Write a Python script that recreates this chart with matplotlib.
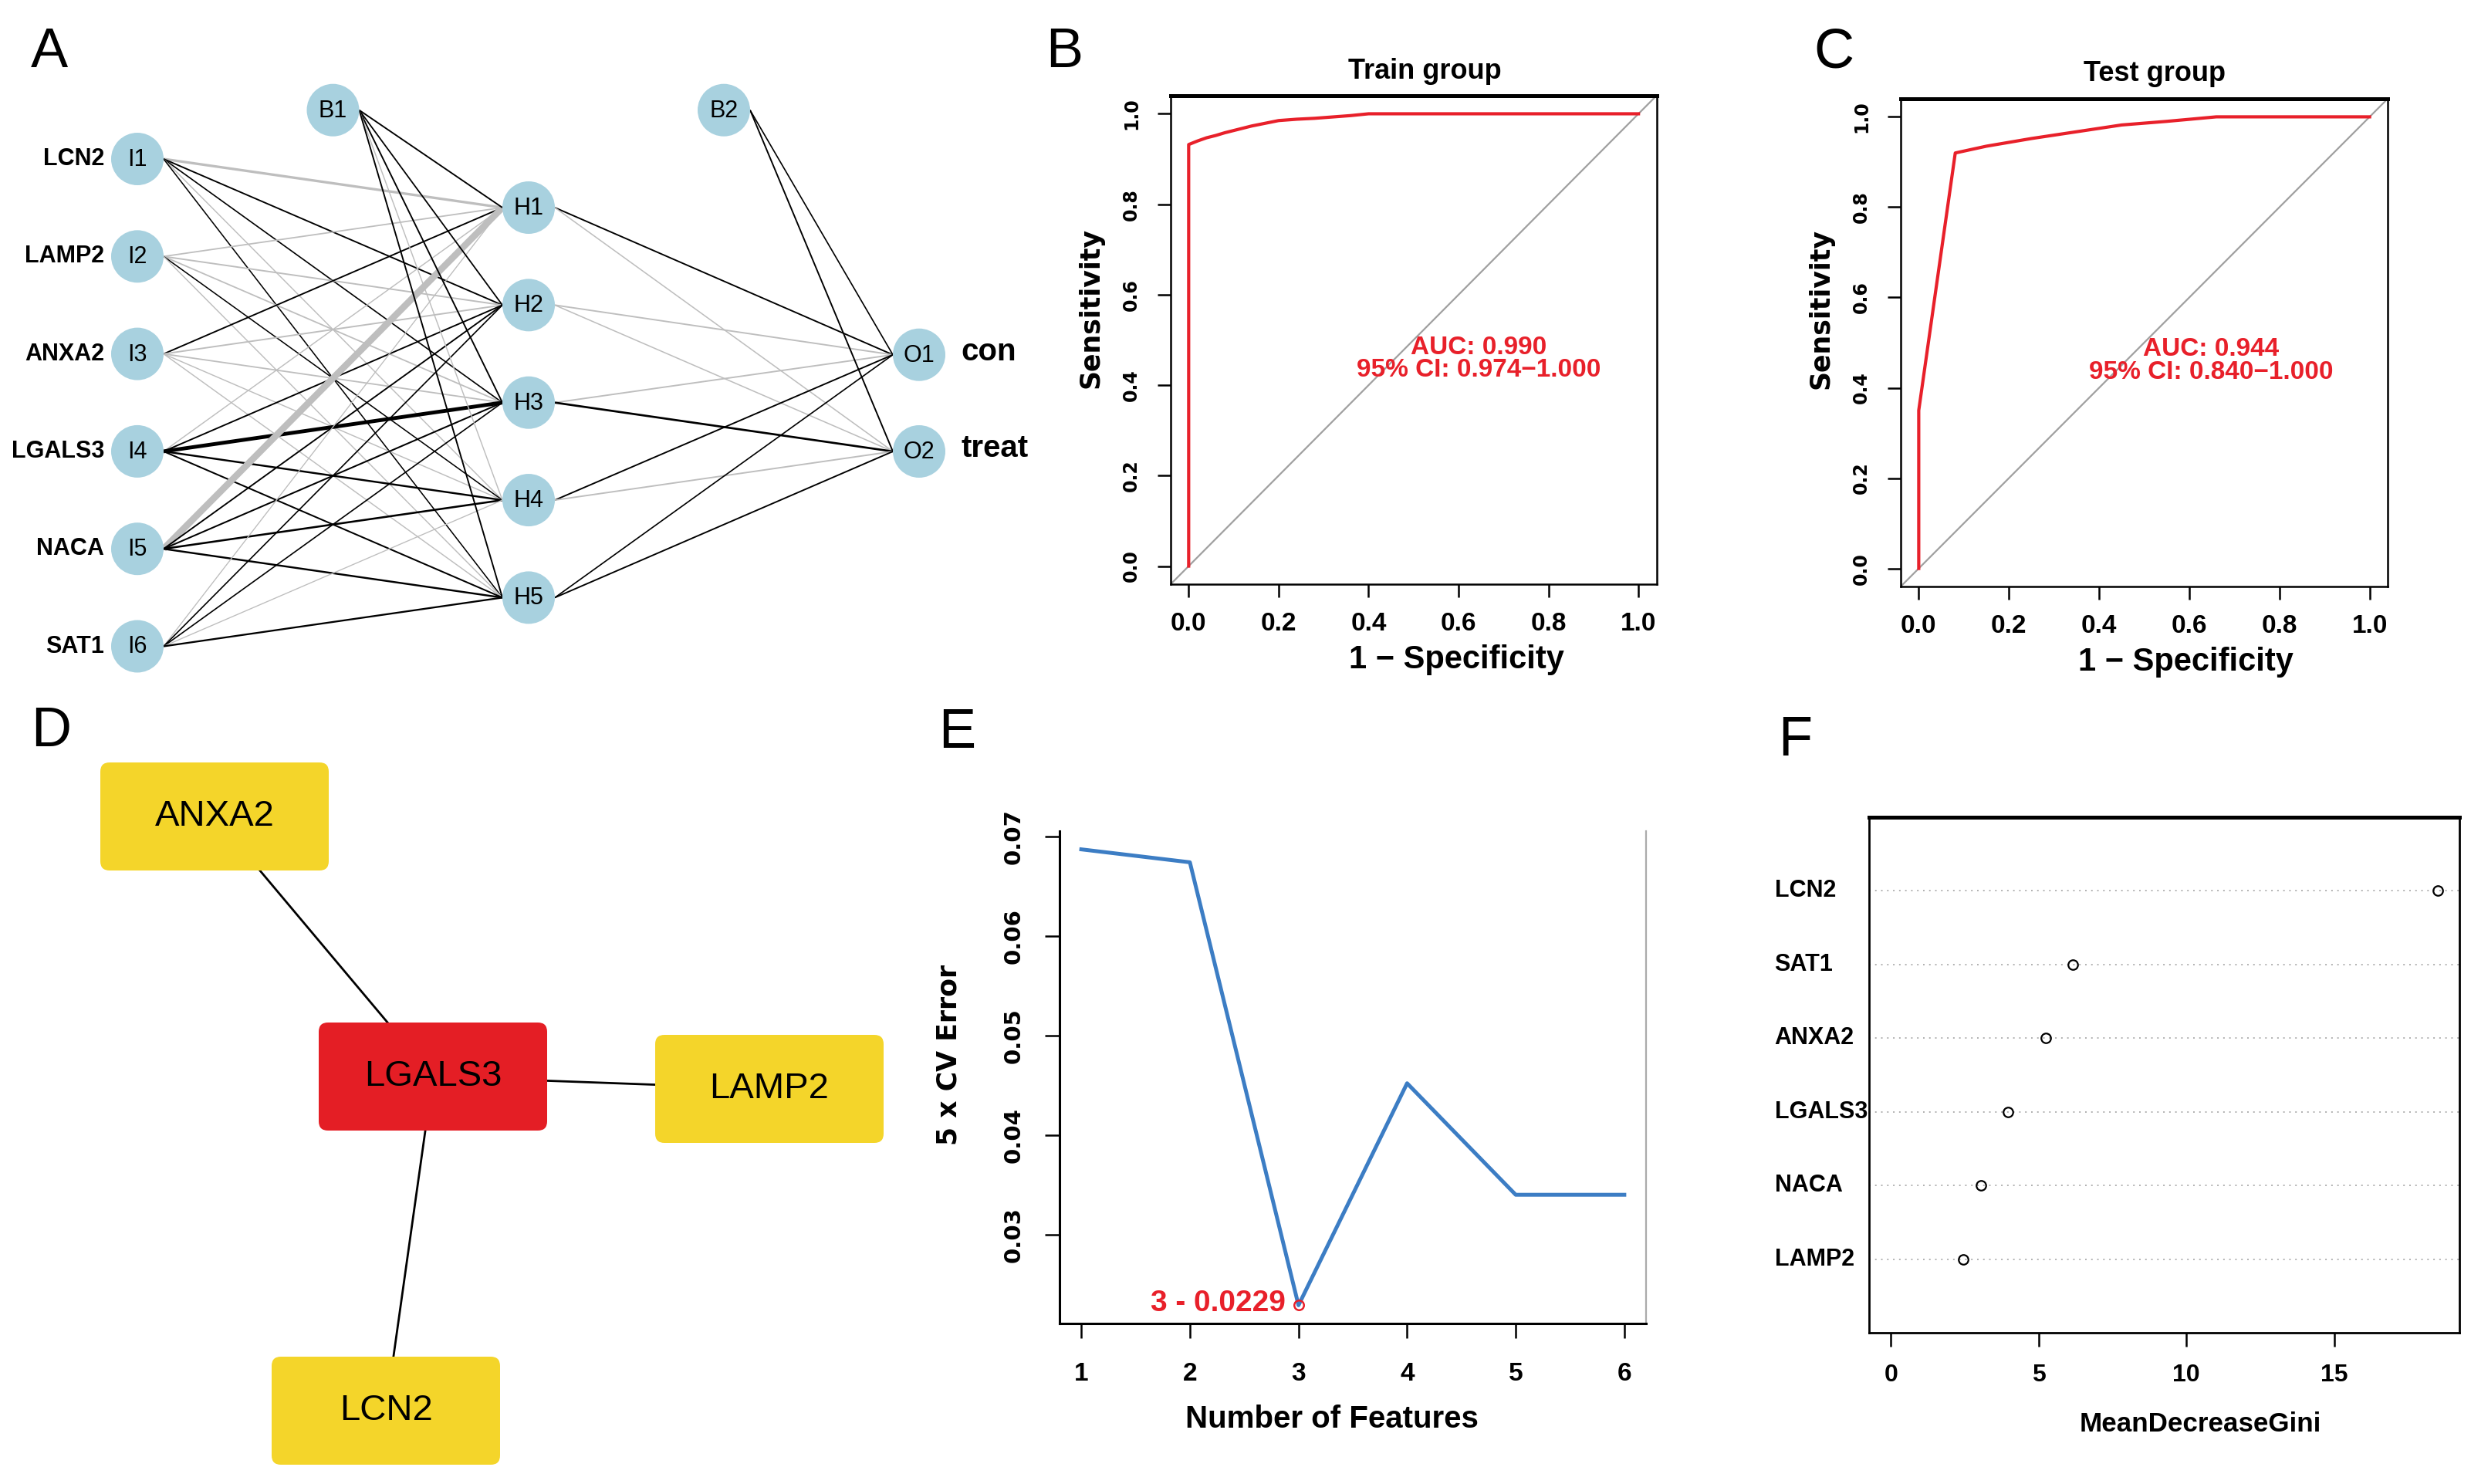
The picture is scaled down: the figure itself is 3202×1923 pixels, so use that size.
import matplotlib
matplotlib.use('Agg')
import matplotlib.pyplot as plt
from matplotlib.patches import Circle, FancyBboxPatch
import matplotlib.transforms as mtransforms
import numpy as np

# ---------------- DATA ----------------
input_genes = ['LCN2', 'LAMP2', 'ANXA2', 'LGALS3', 'NACA', 'SAT1']
input_nodes = ['I1', 'I2', 'I3', 'I4', 'I5', 'I6']
hidden_nodes = ['H1', 'H2', 'H3', 'H4', 'H5']
output_nodes = ['O1', 'O2']
output_labels = ['con', 'treat']
bias_nodes = ['B1', 'B2']
# signed connection weights (positive = black, negative = grey)
w_input_hidden = [
    [-2.0, 1.0, 0.8, -0.6, 0.7],
    [-0.9, -1.0, -0.9, 0.7, -0.6],
    [1.0, -1.0, -0.9, -0.6, -0.6],
    [-0.6, 1.0, 3.0, 1.4, 1.1],
    [-5.0, 1.0, 1.1, 1.5, 1.4],
    [-0.5, 0.8, 0.8, -0.5, 1.3],
]
w_bias1_hidden = [1.0, 0.9, 1.0, -0.6, 1.0]
w_hidden_output = [
    [1.0, -0.7],
    [-1.0, -0.7],
    [-1.0, 1.6],
    [1.0, -1.0],
    [0.8, 1.0],
]
w_bias2_output = [0.8, 1.0]

roc_train_fpr = [0, 0, 0.02, 0.04, 0.06, 0.08, 0.10, 0.12, 0.14, 0.16, 0.18, 0.20, 0.24, 0.28, 0.32, 0.36, 0.40, 1.0]
roc_train_tpr = [0, 0.932, 0.94, 0.947, 0.952, 0.958, 0.963, 0.968, 0.973, 0.977, 0.981, 0.985, 0.988, 0.99, 0.993, 0.996, 1.0, 1.0]
roc_test_fpr = [0, 0, 0.081, 0.15, 0.25, 0.35, 0.45, 0.55, 0.66, 1.0]
roc_test_tpr = [0, 0.35, 0.92, 0.935, 0.952, 0.967, 0.982, 0.99, 1.0, 1.0]
auc_train, ci_train = '0.990', '0.974\u22121.000'
auc_test, ci_test = '0.944', '0.840\u22121.000'

ppi_genes = ['ANXA2', 'LGALS3', 'LAMP2', 'LCN2']
ppi_hub = 'LGALS3'
ppi_edges = [('ANXA2', 'LGALS3'), ('LGALS3', 'LAMP2'), ('LGALS3', 'LCN2')]

n_features = [1, 2, 3, 4, 5, 6]
cv_error = [0.0687, 0.0674, 0.0229, 0.0452, 0.0340, 0.0340]

gini_genes = ['LCN2', 'SAT1', 'ANXA2', 'LGALS3', 'NACA', 'LAMP2']
gini_values = [18.5, 6.16, 5.23, 3.96, 3.06, 2.44]

# ---------------- FIGURE ----------------
W, H = 3202, 1923
DPI = 200
fig = plt.figure(figsize=(W / DPI, H / DPI), dpi=DPI)
SANS = ['Liberation Sans', 'DejaVu Sans']
WIDE = ['DejaVu Sans']


def box(l, t, r, b):
    return [l / W, 1 - b / H, (r - l) / W, (b - t) / H]


# overlay axes in pixel units for panels A and D
ax0 = fig.add_axes([0, 0, 1, 1])
ax0.set_xlim(0, W)
ax0.set_ylim(H, 0)
ax0.axis('off')

# ---- Panel A : neural network ----
node_r = 34
layer_x = [178, 685, 1191]
in_pos = [(layer_x[0], 206 + 126.3 * i) for i in range(len(input_nodes))]
hid_pos = [(layer_x[1], 269 + 126.35 * j) for j in range(len(hidden_nodes))]
out_pos = [(layer_x[2], 459.7 + 125.3 * k) for k in range(len(output_nodes))]
b1_pos = ((layer_x[0] + layer_x[1]) / 2, 142.7)
b2_pos = ((layer_x[1] + layer_x[2]) / 2, 142.7)

all_w = np.abs(np.concatenate([np.ravel(w_input_hidden), w_bias1_hidden,
                               np.ravel(w_hidden_output), w_bias2_output]))
wmax = all_w.max()


def edge(p1, p2, w):
    col = 'black' if w > 0 else '#BEBEBE'
    lw = 0.35 + 2.75 * (abs(w) / wmax) ** 1.3
    ax0.plot([p1[0] + node_r, p2[0] - node_r], [p1[1], p2[1]], color=col, lw=lw,
             solid_capstyle='butt', zorder=1)


for i, p in enumerate(in_pos):
    for j, q in enumerate(hid_pos):
        edge(p, q, w_input_hidden[i][j])
for j, q in enumerate(hid_pos):
    edge(b1_pos, q, w_bias1_hidden[j])
for j, p in enumerate(hid_pos):
    for k, q in enumerate(out_pos):
        edge(p, q, w_hidden_output[j][k])
for k, q in enumerate(out_pos):
    edge(b2_pos, q, w_bias2_output[k])

NODE_COL = '#A8D1DF'


def node(p, name):
    ax0.add_patch(Circle(p, node_r, facecolor=NODE_COL, edgecolor='none', zorder=2))
    ax0.text(p[0], p[1] + 1, name, ha='center', va='center', fontsize=11,
             family=SANS, zorder=3)


for p, n, g in zip(in_pos, input_nodes, input_genes):
    node(p, n)
    ax0.text(p[0] - node_r - 9, p[1], g, ha='right', va='center', fontsize=11,
             fontweight='bold', family=SANS, zorder=3)
for p, n in zip(hid_pos, hidden_nodes):
    node(p, n)
for p, n, g in zip(out_pos, output_nodes, output_labels):
    node(p, n)
    ax0.text(p[0] + node_r + 20, p[1] - 4, g, ha='left', va='center', fontsize=14.5,
             fontweight='bold', family=SANS, zorder=3)
node(b1_pos, bias_nodes[0])
node(b2_pos, bias_nodes[1])

# ---- Panel D : PPI network ----
ppi_layout = {'ANXA2': (278, 1058), 'LGALS3': (561, 1395),
              'LAMP2': (997, 1411), 'LCN2': (500, 1828)}
bw, bh = 296, 140
for a, b in ppi_edges:
    pa, pb = ppi_layout[a], ppi_layout[b]
    ax0.plot([pa[0], pb[0]], [pa[1], pb[1]], color='black', lw=1.0, zorder=1)
for g in ppi_genes:
    cx, cy = ppi_layout[g]
    col = '#E41E25' if g == ppi_hub else '#F4D52A'
    ax0.add_patch(FancyBboxPatch((cx - bw / 2, cy - bh / 2), bw, bh,
                                 boxstyle='round,pad=0,rounding_size=12',
                                 facecolor=col, edgecolor='none', zorder=2))
    ax0.text(cx, cy, g, ha='center', va='center', fontsize=17, family=SANS, zorder=3)


# ---- helpers ----
def style_ticks(ax, xt, xl, yt, yl, xfs, yfs, xpad, ypad, tlen):
    ax.set_xticks(xt, labels=xl, fontsize=xfs, fontweight='bold', family=SANS)
    ax.set_yticks(yt, labels=yl, fontsize=yfs, fontweight='bold', family=WIDE,
                  rotation=90, va='center')
    ax.tick_params(axis='x', direction='out', length=tlen, width=0.9, pad=xpad)
    ax.tick_params(axis='y', direction='out', length=tlen, width=0.9, pad=ypad)


# ---- Panels B, C : ROC ----
def roc_panel(rect, fpr, tpr, title, auc, ci, txt_xy, title_xy, xl_xy, yl_xy):
    ax = fig.add_axes(rect)
    ax.set_xlim(-0.04, 1.04)
    ax.set_ylim(-0.04, 1.04)
    ax.axline((0, 0), (1, 1), color='#A0A0A0', lw=0.8, zorder=1)
    ax.plot(fpr, tpr, color='#E8202A', lw=1.5, zorder=2)
    t = np.round(np.arange(0, 1.01, 0.2), 1)
    lab = [f'{v:.1f}' for v in t]
    style_ticks(ax, t, lab, t, lab, 12, 8.5, 7, 8, 6)
    for s in ax.spines.values():
        s.set_linewidth(0.9)
    ax.spines['top'].set_linewidth(1.8)
    ax.text(title_xy[0], title_xy[1], title, transform=ax.transAxes, ha='center',
            va='baseline', fontsize=13, fontweight='bold', family=SANS)
    ax.text(xl_xy[0], xl_xy[1], '1 \u2212 Specificity', transform=ax.transAxes,
            ha='center', va='baseline', fontsize=15, fontweight='bold', family=SANS)
    ax.text(yl_xy[0], yl_xy[1], 'Sensitivity', transform=ax.transAxes, ha='center',
            va='center', rotation=90, fontsize=12.5, fontweight='bold', family=WIDE)
    ax.text(txt_xy[0], txt_xy[1], f'AUC: {auc}', color='#E8202A', ha='center',
            va='center', fontsize=12, fontweight='bold', family=SANS)
    ax.text(txt_xy[0], txt_xy[1] - 0.05, f'95% CI: {ci}', color='#E8202A', ha='center',
            va='center', fontsize=12, fontweight='bold', family=SANS)
    return ax


roc_panel(box(1517, 124, 2146.5, 757), roc_train_fpr, roc_train_tpr, 'Train group',
          auc_train, ci_train, (0.645, 0.483), (0.523, 1.0355), (0.588, -0.172),
          (-0.165, 0.566))
roc_panel(box(2463, 128, 3094, 760), roc_test_fpr, roc_test_tpr, 'Test group',
          auc_test, ci_test, (0.649, 0.485), (0.521, 1.037), (0.586, -0.172),
          (-0.164, 0.570))

# ---- Panel E : CV error ----
axE = fig.add_axes(box(1373, 1077, 2133, 1715))
axE.plot(n_features, cv_error, color='#3C7DC4', lw=1.8, zorder=2)
best = int(np.argmin(cv_error))
axE.plot([n_features[best]], [cv_error[best]], marker='o', ms=4.5, mfc='none',
         mec='#E8202A', mew=0.9, zorder=3)
axE.annotate(f'{n_features[best]} - {cv_error[best]:.4f}',
             (n_features[best], cv_error[best]), xytext=(-6, 1),
             textcoords='offset points', ha='right', va='center', color='#E8202A',
             fontsize=14, fontweight='bold', family=SANS)
axE.set_xlim(0.8, 6.2)
axE.set_ylim(0.02107, 0.07053)
yt = [0.03, 0.04, 0.05, 0.06, 0.07]
style_ticks(axE, n_features, [str(v) for v in n_features], yt, [f'{v:.2f}' for v in yt],
            12, 10.5, 11, 9.5, 7)
axE.spines['top'].set_visible(False)
axE.spines['right'].set_color('#AAAAAA')
axE.spines['right'].set_linewidth(0.8)
axE.spines['left'].set_linewidth(1.1)
axE.spines['bottom'].set_linewidth(1.1)
axE.text(0.464, -0.212, 'Number of Features', transform=axE.transAxes, ha='center',
         va='baseline', fontsize=14.5, fontweight='bold', family=SANS)
axE.text(-0.189, 0.545, '5 x CV Error', transform=axE.transAxes, ha='center',
         va='center', rotation=90, fontsize=12.5, fontweight='bold', family=WIDE)

# ---- Panel F : MeanDecreaseGini dotchart ----
axF = fig.add_axes(box(2422, 1059, 3187, 1727))
n = len(gini_genes)
ypos = np.arange(n, 0, -1)
for y in ypos:
    axF.axhline(y, color='#B0B0B0', lw=0.7, ls=(0, (1, 3)), zorder=1)
axF.plot(gini_values, ypos, 'o', ms=4.5, mfc='none', mec='black', mew=0.8, zorder=2)
axF.set_xlim(-0.74, 19.24)
axF.set_ylim(0, n + 1)
axF.set_xticks([0, 5, 10, 15], labels=['0', '5', '10', '15'], fontsize=11.5,
               fontweight='bold', family=SANS)
axF.set_yticks([])
axF.tick_params(axis='x', direction='out', length=6.5, width=0.9, pad=8)
trans = mtransforms.blended_transform_factory(axF.transAxes, axF.transData)
for g, y in zip(gini_genes, ypos):
    axF.text(-0.16, y, g, transform=trans, ha='left', va='center', fontsize=11,
             fontweight='bold', family=SANS)
for s in axF.spines.values():
    s.set_linewidth(1.0)
axF.spines['top'].set_linewidth(1.8)
axF.text(0.5616, -0.191, 'MeanDecreaseGini', transform=axF.transAxes, ha='center',
         va='baseline', fontsize=12.6, fontweight='bold', family=SANS)

# ---- panel letters ----
for letter, x, yb in [('A', 40, 87), ('B', 1355, 87), ('C', 2350, 87),
                      ('D', 40, 967), ('E', 1216, 969), ('F', 2304, 979)]:
    fig.text(x / W, 1 - yb / H, letter, fontsize=26, family=SANS, ha='left',
             va='baseline')

fig.savefig('out.png', dpi=DPI)
